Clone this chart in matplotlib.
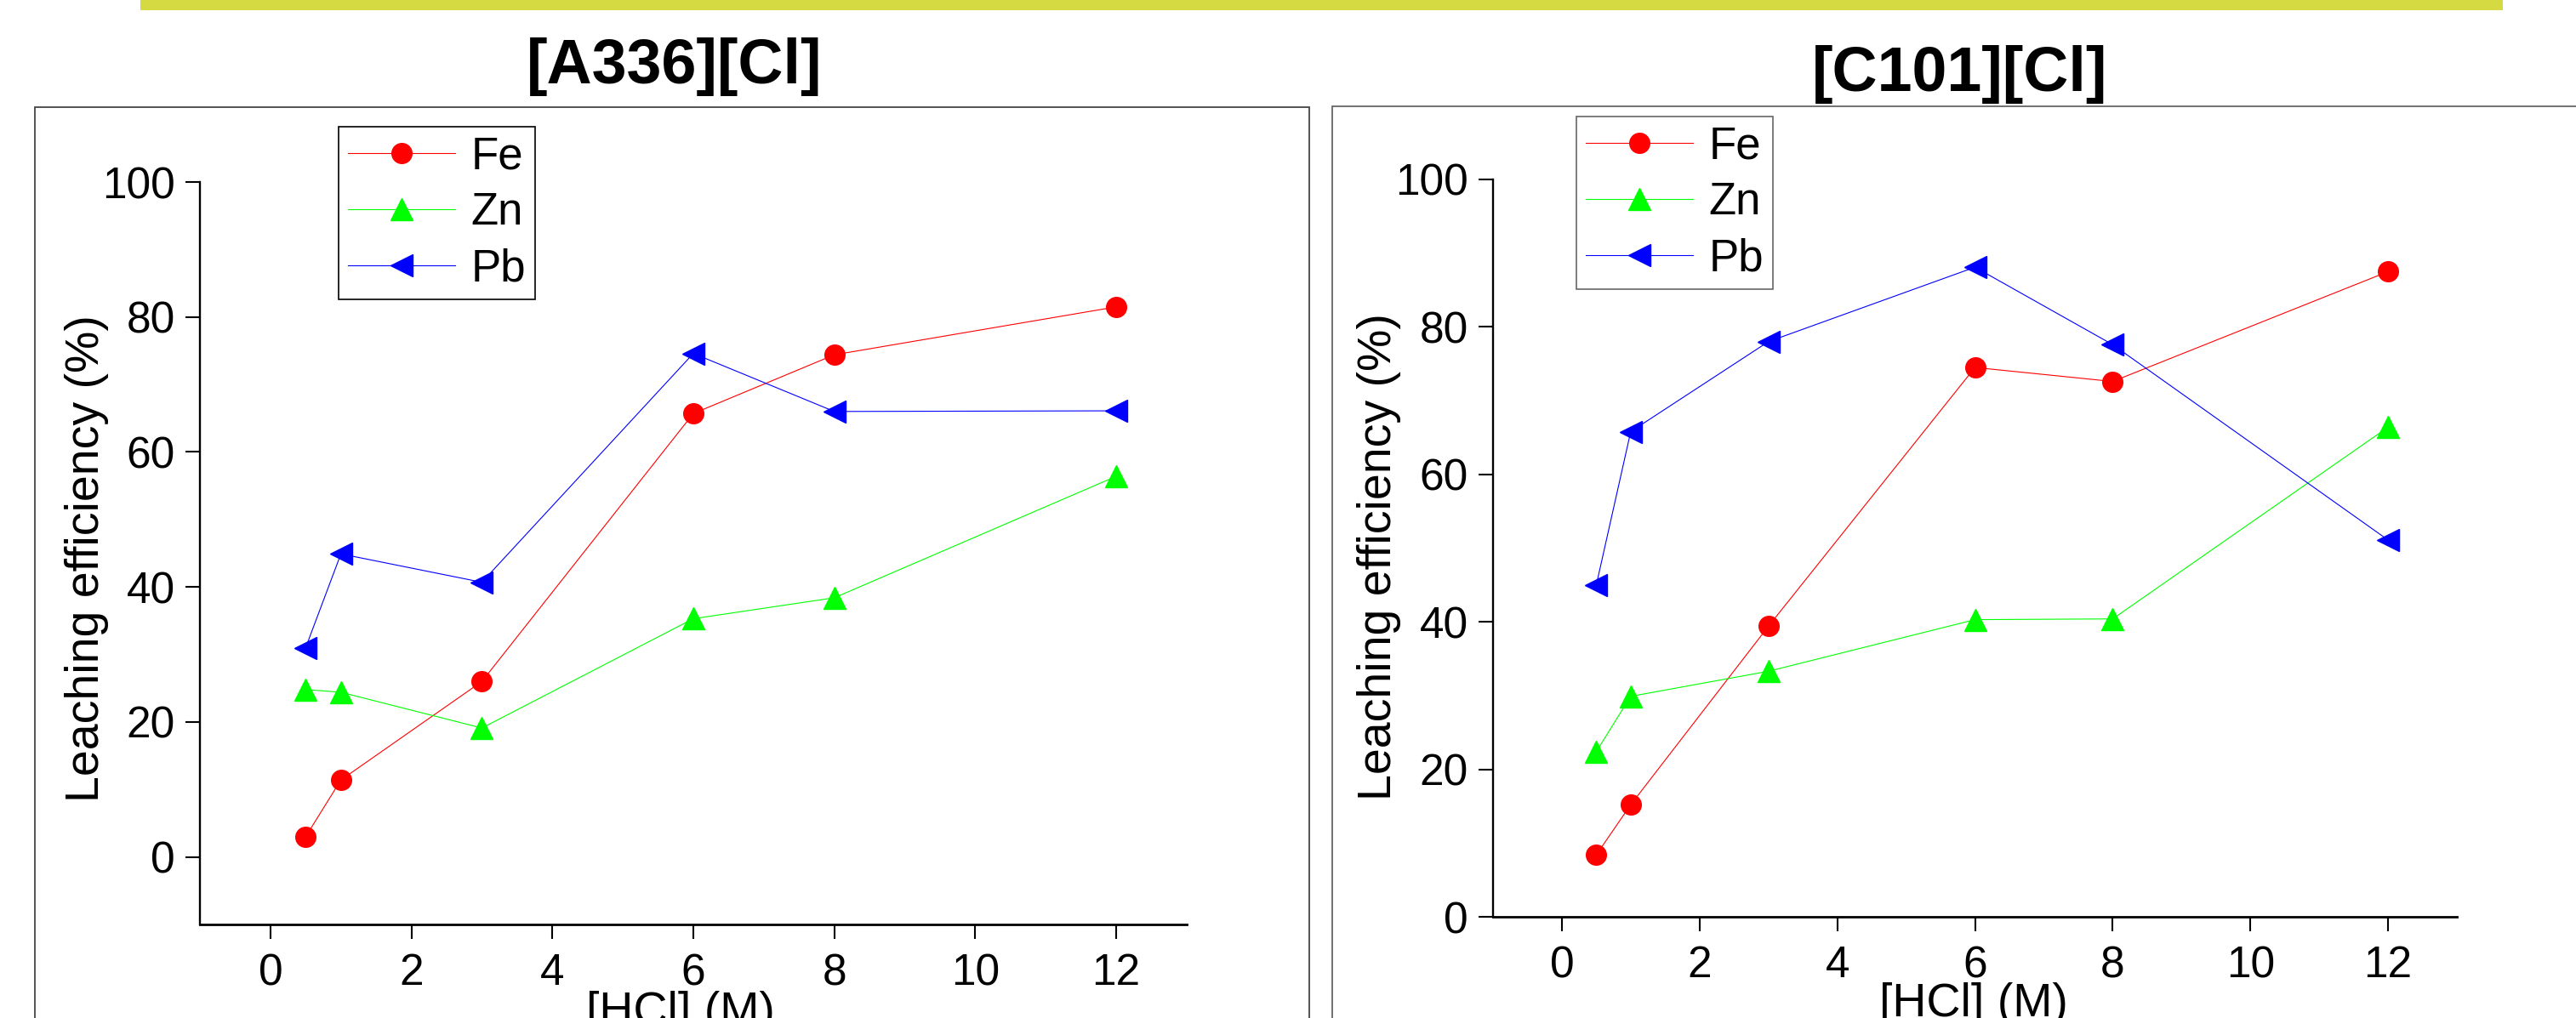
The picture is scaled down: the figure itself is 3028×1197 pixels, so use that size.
import matplotlib
matplotlib.use("Agg")
import matplotlib.pyplot as plt
from matplotlib.patches import Rectangle

# data
hcl = [0.5, 1, 3, 6, 8, 12]
a336_fe = [3.0, 11.4, 26.0, 65.7, 74.4, 81.5]
a336_zn = [24.8, 24.4, 19.1, 35.3, 38.4, 56.4]
a336_pb = [31.0, 44.9, 40.7, 74.6, 66.0, 66.1]
c101_fe = [8.4, 15.2, 39.4, 74.5, 72.6, 87.5]
c101_zn = [22.4, 29.9, 33.3, 40.3, 40.4, 66.4]
c101_pb = [45.0, 65.8, 78.0, 88.1, 77.6, 51.1]
xticks = [0, 2, 4, 6, 8, 10, 12]
yticks = [0, 20, 40, 60, 80, 100]

W, H = 3028, 1197
plt.rcParams["font.family"] = ["Liberation Sans", "DejaVu Sans"]

fig = plt.figure(figsize=(W / 100, H / 100), dpi=100)
fig.patch.set_facecolor("white")


def fx(px):
    return px / W


def fy(py):
    return 1 - py / H


# decorative bar and panel frames
fig.add_artist(Rectangle((fx(165), fy(12)), fx(2942 - 165), 12 / H,
                         transform=fig.transFigure, color="#d5da42", lw=0))
fig.add_artist(Rectangle((fx(41), fy(1260)), fx(1539 - 41), (1260 - 126) / H,
                         transform=fig.transFigure, fill=False, ec="#444444", lw=1.3))
fig.add_artist(Rectangle((fx(1566), fy(1260)), fx(3100 - 1566), (1260 - 125) / H,
                         transform=fig.transFigure, fill=False, ec="#666666", lw=1.3))


def panel(rect, fe, zn, pb, ylim, legend_xy, legend_edge):
    ax = fig.add_axes(rect)
    ax.plot(hcl, fe, color="red", lw=0.8, marker="o", ms=17, mec="red", label="Fe")
    ax.plot(hcl, zn, color="#00ff00", lw=0.8, marker="^", ms=19, mec="#00ff00", label="Zn")
    ax.plot(hcl, pb, color="blue", lw=0.8, marker="<", ms=19, mec="blue", label="Pb")
    ax.set_xlim(-1, 13)
    ax.set_ylim(*ylim)
    ax.set_xticks(xticks)
    ax.set_yticks(yticks)
    for s in ["top", "right"]:
        ax.spines[s].set_visible(False)
    ax.spines["left"].set_linewidth(1.7)
    ax.spines["bottom"].set_linewidth(2.0)
    ax.tick_params(axis="both", direction="out", length=12, width=1.5, labelsize=37)
    ax.tick_params(axis="x", pad=12)
    ax.tick_params(axis="y", pad=9)
    leg = ax.legend(loc="upper left", bbox_to_anchor=legend_xy,
                    bbox_transform=fig.transFigure, fontsize=38, numpoints=1,
                    fancybox=False, framealpha=1, borderpad=0.2, borderaxespad=0,
                    labelspacing=0.3, handlelength=2.4, handletextpad=0.35)
    leg.get_frame().set_edgecolor(legend_edge)
    leg.get_frame().set_linewidth(1.2)
    return ax


panel([fx(235), fy(1087), fx(1160), 873 / H], a336_fe, a336_zn, a336_pb,
      (-10, 100), (fx(398), fy(149)), "black")
panel([fx(1755), fy(1078), fx(1133), 867 / H], c101_fe, c101_zn, c101_pb,
      (0, 100), (fx(1853), fy(137)), "#666666")

# titles and axis labels
fig.text(fx(793), fy(98), "[A336][Cl]", fontsize=53, fontweight="bold",
         ha="center", va="baseline")
fig.text(fx(2304), fy(107), "[C101][Cl]", fontsize=53, fontweight="bold",
         ha="center", va="baseline")
fig.text(fx(102), fy(657), "Leaching efficiency (%)", fontsize=40,
         rotation=90, ha="center", va="center")
fig.text(fx(1621), fy(655), "Leaching efficiency (%)", fontsize=40,
         rotation=90, ha="center", va="center")
# x labels sit partly below the bottom edge, as in the source slide
fig.text(fx(800), fy(1165), "[HCl] (M)", fontsize=40, ha="center", va="top")
fig.text(fx(2320), fy(1155), "[HCl] (M)", fontsize=40, ha="center", va="top")

fig.savefig("out.png", dpi=100)
